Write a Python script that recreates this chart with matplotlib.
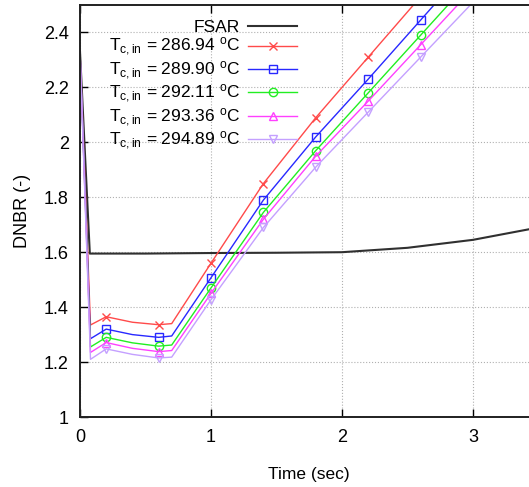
import numpy as np
import matplotlib
matplotlib.use('Agg')
import matplotlib.pyplot as plt

plt.rcParams['font.family'] = ['Liberation Sans', 'DejaVu Sans']
plt.rcParams['mathtext.fontset'] = 'custom'
plt.rcParams['mathtext.rm'] = 'Liberation Sans'
plt.rcParams['mathtext.it'] = 'Liberation Sans'

# FSAR reference curve
t_fsar = [0.0, 0.075, 0.5, 1.0, 1.5, 2.0, 2.5, 3.0, 3.5]
dnbr_fsar = [2.33, 1.595, 1.595, 1.597, 1.598, 1.600, 1.616, 1.645, 1.69]

# cases with different core inlet temperature
t = [0.0, 0.08, 0.2, 0.4, 0.6, 0.7, 1.0, 1.4, 1.8, 2.2, 2.6, 3.0]
dnbr_28694 = [2.33, 1.335, 1.365, 1.345, 1.336, 1.340, 1.560, 1.850, 2.090, 2.310, 2.530, 2.750]
dnbr_28990 = [2.33, 1.285, 1.320, 1.300, 1.290, 1.295, 1.507, 1.790, 2.020, 2.230, 2.445, 2.660]
dnbr_29211 = [2.33, 1.255, 1.290, 1.270, 1.258, 1.262, 1.470, 1.745, 1.970, 2.180, 2.390, 2.600]
dnbr_29336 = [2.33, 1.235, 1.271, 1.250, 1.238, 1.242, 1.450, 1.720, 1.950, 2.150, 2.355, 2.560]
dnbr_29489 = [2.33, 1.210, 1.248, 1.228, 1.215, 1.218, 1.427, 1.690, 1.910, 2.110, 2.310, 2.510]
marks = [2, 4, 6, 7, 8, 9, 10]

labels = ['286.94', '289.90', '292.11', '293.36', '294.89']
series = [dnbr_28694, dnbr_28990, dnbr_29211, dnbr_29336, dnbr_29489]
colors = ['#ff4a4a', '#2828ff', '#22ee22', '#ff40ff', '#c4a0ff']
markers = ['x', 's', 'o', '^', 'v']

fig = plt.figure(figsize=(5.29, 4.87), dpi=100)
ax = fig.add_axes([80/529, 70/487, 458.5/529, 412/487])

ax.plot(t_fsar, dnbr_fsar, color='#303030', linewidth=1.5, label='FSAR')
for y, lab, c, m in zip(series, labels, colors, markers):
    ax.plot(t, y, color=c, linewidth=1.0, marker=m, markevery=marks,
            markersize=6, markerfacecolor='none', markeredgecolor=c,
            markeredgewidth=1.0,
            label=r'T$_{\rm c,in}$ = ' + lab + r' $^{\rm o}$C')

ax.set_xlim(0, 3.5)
ax.set_ylim(1, 2.5)
ax.set_xticks([0, 1, 2, 3])
ax.set_yticks([1, 1.2, 1.4, 1.6, 1.8, 2, 2.2, 2.4])
ax.set_yticklabels(['1', '1.2', '1.4', '1.6', '1.8', '2', '2.2', '2.4'])
ax.tick_params(direction='in', length=5.5, width=1.0, labelsize=13, top=True)
ax.tick_params(axis='x', pad=9)
ax.tick_params(axis='y', pad=8)
for s in ax.spines.values():
    s.set_linewidth(1.4)
    s.set_color('#202020')
ax.grid(True, linestyle=':', color='#b0b0b0', linewidth=0.8)

ax.set_xlabel('Time (sec)', fontsize=12.5, labelpad=15)
ax.set_ylabel('DNBR (-)', fontsize=13, labelpad=9)

leg = ax.legend(loc='upper right', bbox_to_anchor=(297/529, 467/487),
                bbox_transform=fig.transFigure, frameon=False,
                markerfirst=False, fontsize=12.5, handlelength=2.8,
                handletextpad=0.5, labelspacing=0.06, borderpad=0,
                borderaxespad=0)

plt.savefig('out.png', dpi=100)
